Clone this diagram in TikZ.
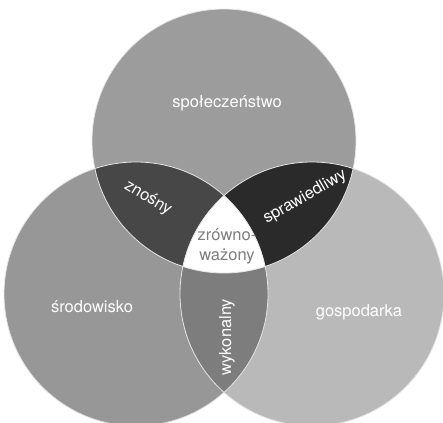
\documentclass[tikz,border=0pt]{standalone}
\usepackage{fontspec}
\setmainfont{TeX Gyre Heros}
\usetikzlibrary{positioning}
\definecolor{grayTop}{HTML}{9C9C9C}
\definecolor{grayLeft}{HTML}{979797}
\definecolor{grayRight}{HTML}{B9B9B9}
\definecolor{grayTL}{HTML}{474747}
\definecolor{grayTR}{HTML}{2A2A2A}
\definecolor{grayLR}{HTML}{7D7D7D}
\tikzset{
    x=1pt, y=-1pt, % picture coordinates in pixels, y going down
    ring/.style={draw=white!80!gray, line width=0.8pt}, % light border of each circle
    areaText/.style={text=white, inner sep=1pt, font=\fontsize{16.5}{19}\selectfont}, % white labels
}
\begin{document}
\begin{tikzpicture}
    \useasboundingbox (0,0) rectangle (443,422);
    \coordinate (cTop) at (224,141);
    \coordinate (cLeft) at (136,294);
    \coordinate (cRight) at (312,294);
    \def\rad{132pt}

    % the three circles
    \fill[grayTop] (cTop) circle[radius=\rad];
    \fill[grayLeft] (cLeft) circle[radius=\rad];
    \fill[grayRight] (cRight) circle[radius=\rad];

    % pairwise overlaps
    \begin{scope}
        \clip (cTop) circle[radius=\rad];
        \fill[grayTL] (cLeft) circle[radius=\rad];
        \fill[grayTR] (cRight) circle[radius=\rad];
    \end{scope}
    \begin{scope}
        \clip (cLeft) circle[radius=\rad];
        \fill[grayLR] (cRight) circle[radius=\rad];
        \clip (cRight) circle[radius=\rad];
        \fill[white] (cTop) circle[radius=\rad];
    \end{scope}

    % borders
    \draw[ring] (cTop) circle[radius=\rad];
    \draw[ring] (cLeft) circle[radius=\rad];
    \draw[ring] (cRight) circle[radius=\rad];

    % labels
    \node[areaText] (spol) at (227,103) {społeczeństwo};
    \node[areaText] (srod) at (92,307) {środowisko};
    \node[areaText] (gosp) at (359,312) {gospodarka};
    \node[areaText, rotate=-31] (znos) at (148,198) {znośny};
    \node[areaText, rotate=30] (spra) at (305,197) {sprawiedliwy};
    \node[areaText, rotate=90] (wyko) at (227,337) {wykonalny};
    \node[areaText, text=grayLR, align=center, font=\fontsize{16.5}{20}\selectfont] (zrow) at (227,246) {zrówno-\\ważony};
\end{tikzpicture}
\end{document}
